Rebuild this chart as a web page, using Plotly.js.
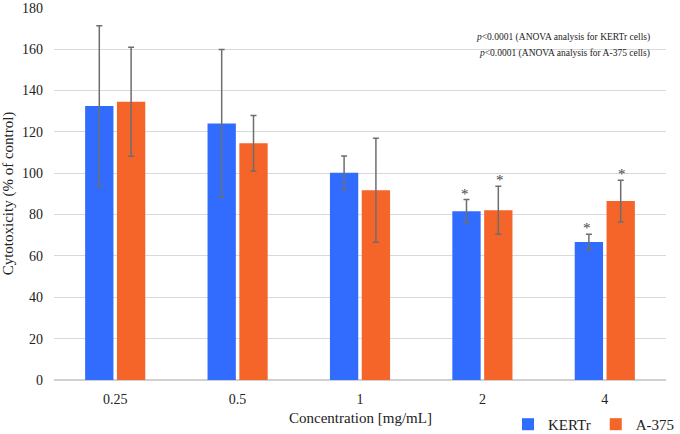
<!DOCTYPE html>
<html>
<head>
<meta charset="utf-8">
<script src="https://cdn.plot.ly/plotly-3.0.1.min.js"></script>
<style>
	html, body { margin: 0; padding: 0; background: #fff; }
	#plot { width: 680px; height: 434px; }
</style>
</head>
<body>
<div id="plot"></div>
<script>
const concentrations = ["0.25", "0.5", "1", "2", "4"];
const kertrValues = [132.4, 124.0, 100.2, 81.6, 66.7];
const kertrErrors = [38.8, 35.7, 8.1, 5.6, 3.8];
const a375Values = [134.5, 114.4, 91.7, 82.0, 86.5];
const a375Errors = [26.3, 13.4, 25.1, 11.6, 10.1];
// significance markers (*) per concentration
const kertrSig = [false, false, false, true, true];
const a375Sig = [false, false, false, true, true];
const pNotes = [
	"<i>p</i><0.0001 (ANOVA analysis for KERTr cells)",
	"<i>p</i><0.0001 (ANOVA analysis for A-375 cells)"
];
const xTitle = "Concentration [mg/mL]";

const serif = "Liberation Serif";
const errStyle = { type: "data", visible: true, color: "#6e6e6e", thickness: 1.5, width: 3 };

let traces = [
	{
		type: "bar",
		name: "KERTr",
		x: concentrations,
		y: kertrValues,
		marker: { color: "#316cff" },
		error_y: Object.assign({ array: kertrErrors }, errStyle)
	},
	{
		type: "bar",
		name: "A-375",
		x: concentrations,
		y: a375Values,
		marker: { color: "#f56428" },
		error_y: Object.assign({ array: a375Errors }, errStyle)
	}
];

let annotations = [];
concentrations.forEach((c, i) => {
	// category index as x, so "1"/"2"/"4" aren't read as positions
	if (kertrSig[i]) {
		annotations.push({
			x: i, y: kertrValues[i] + kertrErrors[i], xref: "x", yref: "y",
			text: "*", showarrow: false, xshift: -17.5, yanchor: "bottom", yshift: -4,
			font: { family: serif, size: 15, color: "#444" }
		});
	}
	if (a375Sig[i]) {
		annotations.push({
			x: i, y: a375Values[i] + a375Errors[i], xref: "x", yref: "y",
			text: "*", showarrow: false, xshift: 17.5, yanchor: "bottom", yshift: -4,
			font: { family: serif, size: 15, color: "#444" }
		});
	}
});
pNotes.forEach((t, i) => {
	annotations.push({
		x: 0.977, y: 0.917 - i * 0.043, xref: "paper", yref: "paper",
		text: t, showarrow: false, xanchor: "right", yanchor: "middle",
		font: { family: serif, size: 9.5, color: "#222" }
	});
});
// x axis title drawn as a paper annotation (title standoff misbehaves without automargin)
annotations.push({
	x: 0.5, y: -0.102, xref: "paper", yref: "paper",
	text: xTitle, showarrow: false, xanchor: "center", yanchor: "middle",
	font: { family: serif, size: 15, color: "#222" }
});

let layout = {
	width: 680,
	height: 434,
	margin: { l: 54, r: 14, t: 7, b: 54 },
	paper_bgcolor: "#fff",
	plot_bgcolor: "#fff",
	font: { family: serif, size: 14, color: "#222" },
	barmode: "group",
	bargap: 0.48,
	bargroupgap: 0.11,
	showlegend: true,
	legend: {
		orientation: "h",
		xref: "container", yref: "container",
		x: 1, xanchor: "right",
		y: 0.022, yanchor: "middle",
		font: { family: serif, size: 15, color: "#222" },
		itemwidth: 30,
		tracegroupgap: 0,
		bgcolor: "rgba(0,0,0,0)"
	},
	xaxis: {
		type: "category",
		automargin: false,
		showgrid: false,
		showline: false,
		ticks: "",
		ticklabelstandoff: 9,
		tickfont: { family: serif, size: 14, color: "#222" }
	},
	yaxis: {
		range: [0, 180.3],
		automargin: false,
		tickmode: "array",
		tickvals: [0, 20, 40, 60, 80, 100, 120, 140, 160, 180],
		showgrid: true,
		gridcolor: "#d9d9d9",
		gridwidth: 1,
		zeroline: true,
		zerolinecolor: "#d0d0d0",
		zerolinewidth: 1.5,
		showline: false,
		ticks: "",
		ticklabelstandoff: 10,
		tickfont: { family: serif, size: 14, color: "#222" },
		title: { text: "Cytotoxicity (% of control)", font: { family: serif, size: 15, color: "#222" }, standoff: 8 }
	},
	annotations: annotations
};

Plotly.newPlot("plot", traces, layout, { displayModeBar: false, staticPlot: true });
</script>
</body>
</html>
